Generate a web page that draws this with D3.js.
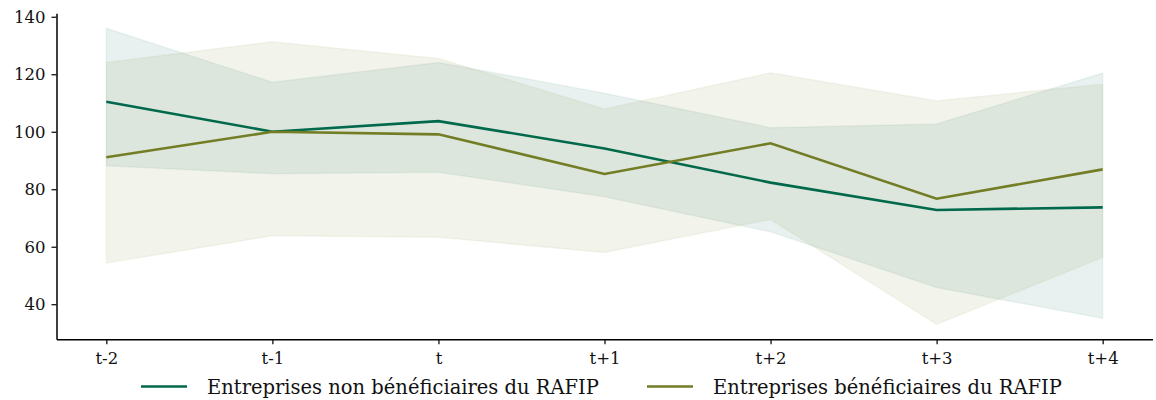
<!DOCTYPE html>
<html>
<head>
<meta charset="utf-8">
<script src="https://cdn.jsdelivr.net/npm/d3@7"></script>
<style>
	body { margin: 0; background: #fff; }
	text { font-family: "DejaVu Serif", serif; fill: #111; }
</style>
</head>
<body>
<div id="chart"></div>
<script>
// ********** DATA **********
const periods = ["t-2", "t-1", "t", "t+1", "t+2", "t+3", "t+4"];

const nonBenef = [110.4, 100, 103.7, 94.2, 82.3, 72.8, 73.7];
const nonBenefLow = [88.2, 85.4, 85.9, 77.4, 65.2, 45.8, 35.1];
const nonBenefHigh = [136.0, 117.2, 124.1, 113.4, 101.4, 102.7, 120.4];

const benef = [91.1, 100, 99.1, 85.3, 96.0, 76.7, 86.9];
const benefLow = [54.3, 63.8, 63.3, 58.0, 69.5, 33.0, 56.3];
const benefHigh = [124.1, 131.3, 125.5, 107.9, 120.5, 110.8, 116.5];

const yTicks = [40, 60, 80, 100, 120, 140];
const seriesNames = ["Entreprises non bénéficiaires du RAFIP", "Entreprises bénéficiaires du RAFIP"];

const width = 1156, height = 400;
const colGreen = "#00694b", colOlive = "#737d25";

const svg = d3.select("#chart")
	.append("svg")
	.attr("width", width)
	.attr("height", height);

// scales
const x = d3.scaleLinear().domain([-0.3, 6.3]).range([56.5, 1152.5]);
const y = d3.scaleLinear().domain([27.8, 141.2]).range([339.3, 13.3]);

const series = [
	{ name: seriesNames[0], mid: nonBenef, lo: nonBenefLow, hi: nonBenefHigh, color: colGreen },
	{ name: seriesNames[1], mid: benef, lo: benefLow, hi: benefHigh, color: colOlive }
];

const area = d3.area()
	.x((d, i) => x(i))
	.y0((d) => y(d[0]))
	.y1((d) => y(d[1]));

const line = d3.line()
	.x((d, i) => x(i))
	.y((d) => y(d));

// bands
series.forEach((s) => {
	svg.append("path")
		.datum(s.lo.map((v, i) => [v, s.hi[i]]))
		.attr("d", area)
		.style("fill", s.color)
		.style("fill-opacity", 0.09)
		.style("stroke", s.color)
		.style("stroke-opacity", 0.06)
		.style("stroke-width", 1.5);
});

// lines
series.forEach((s) => {
	svg.append("path")
		.datum(s.mid)
		.attr("d", line)
		.style("fill", "none")
		.style("stroke", s.color)
		.style("stroke-width", 2.6);
});

// axes
const xAxis = d3.axisBottom(x)
	.tickValues(d3.range(periods.length))
	.tickFormat((d) => periods[d])
	.tickSize(5)
	.tickSizeOuter(0)
	.tickPadding(8);

const yAxis = d3.axisLeft(y)
	.tickValues(yTicks)
	.tickSize(5)
	.tickSizeOuter(0)
	.tickPadding(6);

const gx = svg.append("g")
	.attr("transform", `translate(0,${y.range()[0]})`)
	.call(xAxis);

const gy = svg.append("g")
	.attr("transform", `translate(${x.range()[0]},0)`)
	.call(yAxis);

[gx, gy].forEach((g) => {
	g.select(".domain").attr("stroke", "#000").attr("stroke-width", 1.5);
	g.selectAll(".tick line").attr("stroke", "#000").attr("stroke-width", 1.2);
	g.selectAll(".tick text")
		.style("font-family", "'DejaVu Serif', serif")
		.style("font-size", "16.5px")
		.attr("fill", "#111");
});

// legend
const legendY = 386.5;
const legend = svg.append("g");
const legendX = [141, 647];
series.forEach((s, i) => {
	legend.append("line")
		.attr("x1", legendX[i]).attr("x2", legendX[i] + 46)
		.attr("y1", legendY).attr("y2", legendY)
		.style("stroke", s.color)
		.style("stroke-width", 2.6);
	legend.append("text")
		.attr("x", legendX[i] + 66)
		.attr("y", legendY + 7)
		.style("font-size", "19.5px")
		.text(s.name);
});
</script>
</body>
</html>
